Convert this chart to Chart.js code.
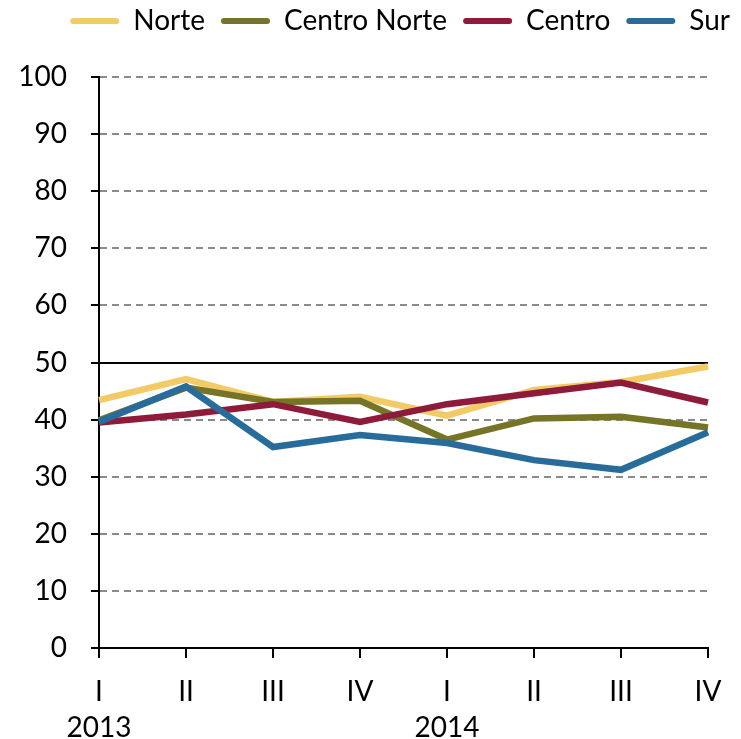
<!DOCTYPE html>
<html>
<head>
<meta charset="utf-8">
<script src="https://cdn.jsdelivr.net/npm/chart.js@4/dist/chart.umd.min.js"></script>
<style>
  html, body { margin: 0; padding: 0; background: #fff; }
  #wrap { width: 741px; height: 739px; }
</style>
</head>
<body>
<div id="wrap"><canvas id="chart" width="741" height="739"></canvas></div>
<script>
// Quarter labels (first line) and year labels (second line)
const quarters = ["I", "II", "III", "IV", "I", "II", "III", "IV"];
const years = ["2013", "", "", "", "2014", "", "", ""];

// Series values
const norte = [43.4, 47.1, 43.1, 44.0, 40.7, 45.2, 46.6, 49.3];
const centroNorte = [39.9, 45.6, 43.1, 43.3, 36.5, 40.2, 40.5, 38.6];
const centro = [39.5, 40.9, 42.7, 39.6, 42.7, 44.6, 46.5, 43.0];
const sur = [39.6, 45.8, 35.2, 37.3, 35.9, 32.9, 31.2, 37.8];

const FONT = "Lato, 'Open Sans', sans-serif";
const FSIZE = 28;

// Keep legend box a fixed height and slide it to where the original sits
const legendPlace = {
  id: "legendPlace",
  beforeLayout(chart) {
    const lg = chart.legend;
    if (lg && !lg._fixed) {
      const fit = lg.fit;
      lg.fit = function () {
        fit.call(this);
        this.height = 77;
      };
      lg._fixed = true;
    }
  },
  afterLayout(chart) {
    const lg = chart.legend;
    if (!lg) return;
    lg.left = 0;
    lg.right = 746;
    lg.top = -9;
    lg.bottom = 68;
  },
};

function makeSet(label, data, color, order) {
  return {
    label: label,
    data: data,
    borderColor: color,
    backgroundColor: color,
    borderWidth: 6.5,
    pointRadius: 0,
    tension: 0,
    fill: false,
    order: order,
  };
}

const ctx = document.getElementById("chart").getContext("2d");
new Chart(ctx, {
  type: "line",
  data: {
    labels: quarters.map((q, i) => [q, years[i]]),
    datasets: [
      makeSet("Norte", norte, "#F3CB66", 3),
      makeSet("Centro Norte", centroNorte, "#757427", 2),
      makeSet("Centro", centro, "#8E1B3A", 1),
      makeSet("Sur", sur, "#286C9B", 0),
    ],
  },
  options: {
    responsive: false,
    animation: false,
    layout: { padding: { left: 0, right: 33, top: 0, bottom: 0 } },
    plugins: {
      tooltip: { enabled: false },
      legend: {
        position: "top",
        align: "end",
        labels: {
          color: "#000",
          font: { family: FONT, size: FSIZE },
          boxWidth: 49,
          boxHeight: 6,
          padding: 16,
          useBorderRadius: true,
          borderRadius: 3,
          sort: (a, b) => a.datasetIndex - b.datasetIndex,
          generateLabels(chart) {
            const items = Chart.defaults.plugins.legend.labels.generateLabels(chart);
            items.forEach((it) => {
              it.fillStyle = it.strokeStyle;
              it.lineWidth = 0;
            });
            return items;
          },
        },
      },
    },
    scales: {
      x: {
        offset: false,
        grid: {
          display: true,
          drawOnChartArea: false,
          drawTicks: true,
          tickLength: 10,
          tickColor: "#000",
          lineWidth: 2,
        },
        border: { color: "#000", width: 2 },
        ticks: {
          color: "#000",
          font: { family: FONT, size: FSIZE, lineHeight: 1.32 },
          padding: 15,
          autoSkip: false,
          maxRotation: 0,
        },
        afterFit(scale) {
          scale.height = 91;
        },
      },
      y: {
        min: 0,
        max: 100,
        grid: {
          color: (c) => (c.tick && (c.tick.value === 50 || c.tick.value === 0) ? "#000" : "#8a8a8a"),
          lineWidth: 2,
          tickColor: "#000",
          tickLength: 8,
          drawTicks: true,
        },
        border: {
          color: "#000",
          width: 2,
          dash: (c) => (c.tick && (c.tick.value === 50 || c.tick.value === 0) ? [] : [7, 5]),
        },
        ticks: {
          stepSize: 10,
          color: "#000",
          font: { family: FONT, size: FSIZE },
          padding: 24,
        },
        afterFit(scale) {
          scale.width = 99;
        },
      },
    },
  },
  plugins: [legendPlace],
});
</script>
</body>
</html>
